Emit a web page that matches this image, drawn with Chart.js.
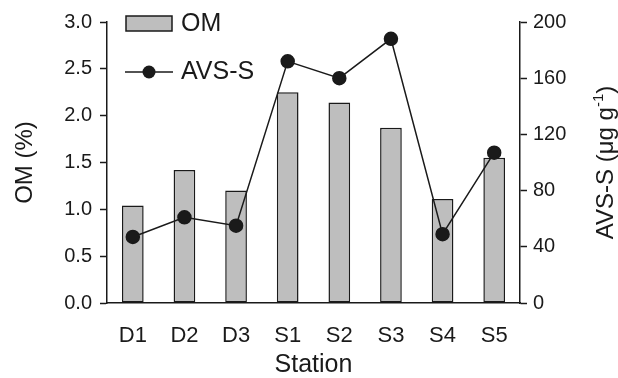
<!DOCTYPE html>
<html>
<head>
<meta charset="utf-8">
<script src="https://cdn.jsdelivr.net/npm/chart.js@4.4.0/dist/chart.umd.min.js"></script>
<style>
  html, body { margin: 0; padding: 0; background: #fff; }
  #wrap { width: 618px; height: 378px; }
</style>
</head>
<body>
<div id="wrap"><canvas id="chart" width="618" height="378"></canvas></div>
<script>
// data
const stations = ['D1', 'D2', 'D3', 'S1', 'S2', 'S3', 'S4', 'S5'];
const omValues = [1.04, 1.42, 1.20, 2.25, 2.14, 1.87, 1.11, 1.55];
const avsValues = [47, 61, 55, 172, 160, 188, 49, 107];
const omTicks = [0, 0.5, 1.0, 1.5, 2.0, 2.5, 3.0];
const avsTicks = [0, 40, 80, 120, 160, 200];

const FONT = 'Liberation Sans, Arial, Helvetica, sans-serif';
const INK = '#1a1a1a';
const BAR_FILL = '#bebebe';

// legend + right axis title drawn by hand (superscript, inset legend)
const extras = {
  id: 'extras',
  afterDraw(chart) {
    const ctx = chart.ctx;
    ctx.save();
    // legend: OM
    ctx.fillStyle = BAR_FILL;
    ctx.fillRect(126, 16, 46, 15);
    ctx.strokeStyle = INK;
    ctx.lineWidth = 1.5;
    ctx.strokeRect(126, 16, 46, 15);
    ctx.fillStyle = INK;
    ctx.font = '25px ' + FONT;
    ctx.textBaseline = 'middle';
    ctx.textAlign = 'left';
    ctx.fillText('OM', 181, 24);
    // legend: AVS-S
    ctx.beginPath();
    ctx.moveTo(125, 72);
    ctx.lineTo(173, 72);
    ctx.stroke();
    ctx.beginPath();
    ctx.arc(149, 72, 6.5, 0, Math.PI * 2);
    ctx.fill();
    ctx.fillText('AVS-S', 181, 72);

    // right axis title with superscript
    const main = 'AVS-S (\u03bcg g';
    const sup = '-1';
    const tail = ')';
    ctx.font = '24px ' + FONT;
    const w1 = ctx.measureText(main).width;
    const w3 = ctx.measureText(tail).width;
    ctx.font = '15px ' + FONT;
    const w2 = ctx.measureText(sup).width;
    const total = w1 + w2 + w3;
    const cy = (chart.chartArea.top + chart.chartArea.bottom) / 2;
    ctx.translate(613, cy + total / 2);
    ctx.rotate(-Math.PI / 2);
    ctx.textBaseline = 'alphabetic';
    ctx.font = '24px ' + FONT;
    ctx.fillText(main, 0, 0);
    ctx.font = '15px ' + FONT;
    ctx.fillText(sup, w1, -10);
    ctx.font = '24px ' + FONT;
    ctx.fillText(tail, w1 + w2, 0);
    ctx.restore();
  }
};

new Chart(document.getElementById('chart'), {
  data: {
    labels: stations,
    datasets: [
      {
        type: 'line',
        label: 'AVS-S',
        data: avsValues,
        yAxisID: 'y1',
        borderColor: INK,
        borderWidth: 1.5,
        pointRadius: 6.5,
        pointBackgroundColor: INK,
        pointBorderColor: INK,
        tension: 0,
        order: 0
      },
      {
        type: 'bar',
        label: 'OM',
        data: omValues,
        yAxisID: 'y',
        backgroundColor: BAR_FILL,
        borderColor: INK,
        borderWidth: 1.5,
        borderSkipped: false,
        barPercentage: 1,
        categoryPercentage: 0.42,
        order: 1
      }
    ]
  },
  options: {
    responsive: false,
    animation: false,
    layout: { padding: { top: 22, left: 0, right: 0, bottom: 0 } },
    plugins: { legend: { display: false }, tooltip: { enabled: false } },
    scales: {
      x: {
        grid: { display: false },
        border: { display: true, color: INK, width: 1.5 },
        ticks: { color: INK, font: { family: FONT, size: 22 }, padding: 12 },
        title: { display: true, text: 'Station', color: INK, font: { family: FONT, size: 25 }, padding: { top: 0, bottom: -2 } },
        afterFit(scale) { scale.height = 75; }
      },
      y: {
        position: 'left',
        min: 0,
        max: 3,
        afterBuildTicks(scale) { scale.ticks = omTicks.map(v => ({ value: v })); },
        grid: { drawOnChartArea: false, drawTicks: true, tickLength: 7, tickColor: INK, tickWidth: 1.5 },
        border: { display: true, color: INK, width: 1.5 },
        ticks: {
          color: INK,
          font: { family: FONT, size: 20 },
          padding: 8,
          callback: v => Number(v).toFixed(1)
        },
        title: { display: true, text: 'OM (%)', color: INK, font: { family: FONT, size: 24 }, padding: { top: 11, bottom: 0 } },
        afterFit(scale) { scale.width = 107; }
      },
      y1: {
        position: 'right',
        min: 0,
        max: 200,
        afterBuildTicks(scale) { scale.ticks = avsTicks.map(v => ({ value: v })); },
        grid: { drawOnChartArea: false, drawTicks: true, tickLength: 7, tickColor: INK, tickWidth: 1.5 },
        border: { display: true, color: INK, width: 1.5 },
        ticks: { color: INK, font: { family: FONT, size: 20 }, padding: 6 },
        afterFit(scale) { scale.width = 98; }
      }
    }
  },
  plugins: [extras]
});
</script>
</body>
</html>
